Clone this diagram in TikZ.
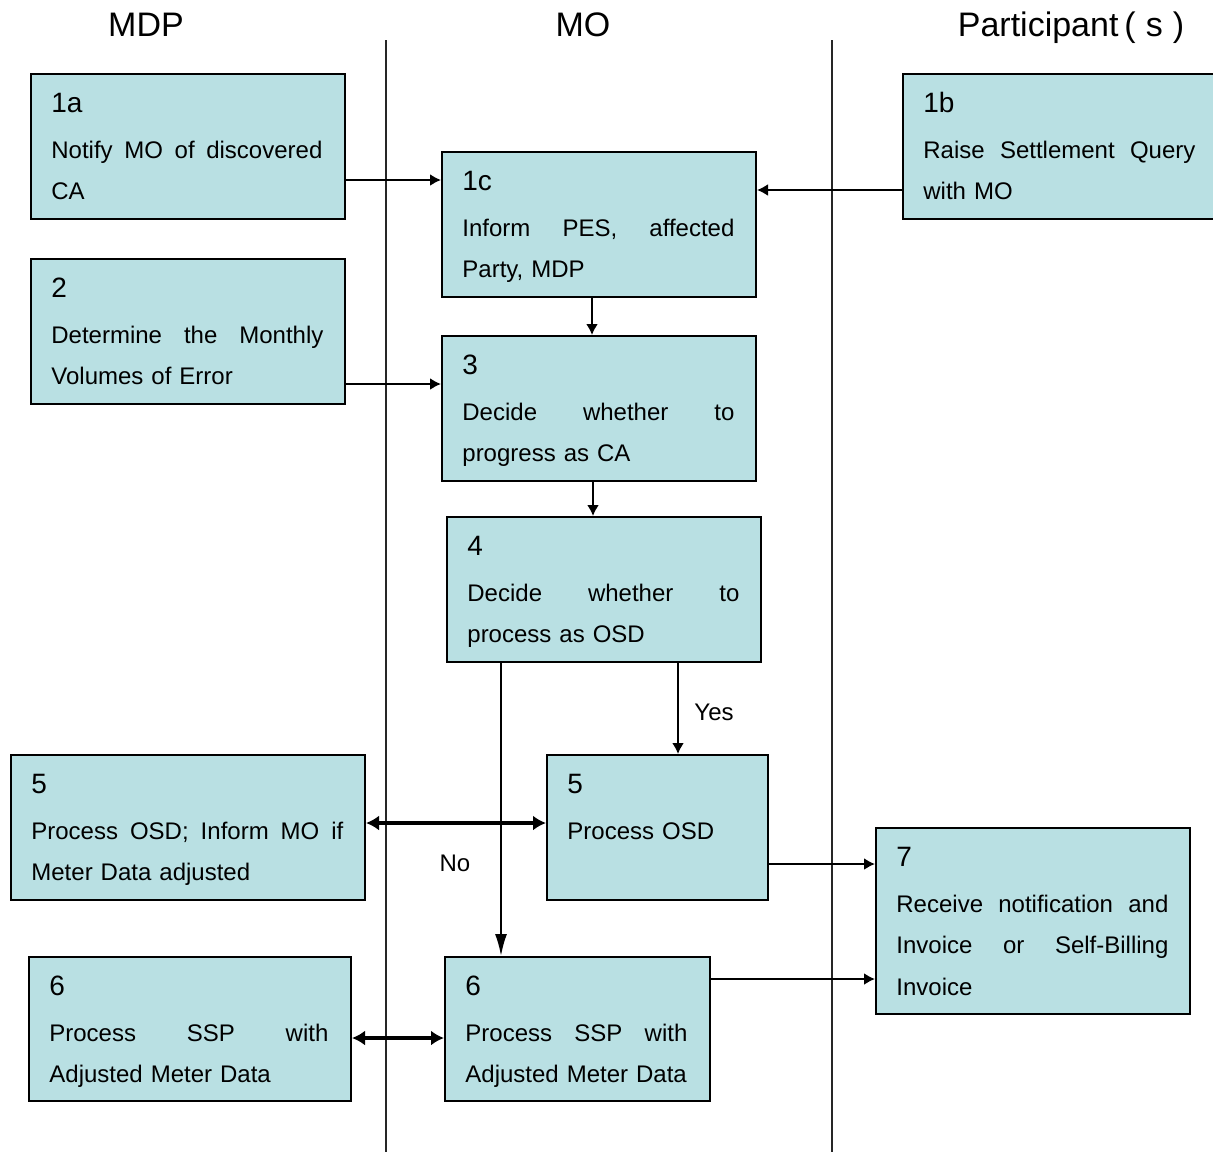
\documentclass[tikz,border=0pt]{standalone}
\usepackage{fontspec}
\setmainfont{Liberation Sans}
\usetikzlibrary{arrows.meta,fit}
\definecolor{stepfill}{RGB}{185,224,227}
% one justified line of a given width
\newcommand{\jline}[2]{\leavevmode\hbox to #1{\spaceskip=0.28em plus 1fil\relax #2}}
\hbadness=10000

\begin{document}
\begin{tikzpicture}[
  x=0.5pt, y=-0.5pt,
  stepbox/.style={draw, line width=1pt, fill=stepfill, inner sep=0pt},
  stepnum/.style={anchor=base west, inner sep=0pt, font=\fontsize{14}{16}\selectfont},
  steptext/.style={anchor=base west, inner sep=0pt, align=left, text width=160pt,
                   font=\fontsize{12}{20.75}\selectfont},
  lane/.style={draw, line width=0.6pt, black!85},
  head/.style={anchor=base, inner sep=0pt, font=\fontsize{17}{20}\selectfont},
  tag/.style={font=\fontsize{12}{14}\selectfont, inner sep=0pt},
  flow/.style={draw, line width=1pt, -{Latex[length=5.5pt,width=6pt]}},
  longflow/.style={draw, line width=1pt, -{Latex[length=11pt,width=6pt]}},
  both/.style={draw, line width=1.7pt, {Latex[length=6.5pt,width=7.5pt]}-{Latex[length=6.5pt,width=7.5pt]}}
]
\useasboundingbox (0,0) rectangle (1213,1152);
\clip (0,0) rectangle (1213,1152);

% swimlanes
\node[head] (hmdp) at (146,36) {MDP};
\node[head] (hmo) at (583,36) {MO};
\node[head] (hpart) at (1071,36) {Participant\kern3pt(\kern5pt s\kern5pt)};
\path[lane] (386,40) -- (386,1152);
\path[lane] (832,40) -- (832,1152);

% boxes
\node[stepbox, fit={(31,74) (345,219)}] (b1a) {};
\node[stepbox, fit={(442,152) (756,297)}] (b1c) {};
\node[stepbox, fit={(903,74) (1217,219)}] (b1b) {};
\node[stepbox, fit={(31,259) (345,404)}] (b2) {};
\node[stepbox, fit={(442,336) (756,481)}] (b3) {};
\node[stepbox, fit={(447,517) (761,662)}] (b4) {};
\node[stepbox, fit={(11,755) (365,900)}] (b5l) {};
\node[stepbox, fit={(547,755) (768,900)}] (b5m) {};
\node[stepbox, fit={(876,828) (1190,1014)}] (b7) {};
\node[stepbox, fit={(29,957) (351,1101)}] (b6l) {};
\node[stepbox, fit={(445,957) (710,1101)}] (b6m) {};

% step numbers
\foreach \b/\n in {b1a/1a, b1c/1c, b1b/1b, b2/2, b3/3, b4/4, b5l/5, b5m/5, b7/7, b6l/6, b6m/6}
  \node[stepnum] (\b num) at ([shift={(21,39)}]\b.north west) {\n};

% step texts
\node[steptext] (b1atext) at ([shift={(21,85)}]b1a.north west)
  {\jline{135.5pt}{Notify MO of discovered}\\CA};
\node[steptext] (b1ctext) at ([shift={(21,85)}]b1c.north west)
  {\jline{136pt}{Inform PES, affected}\\Party, MDP};
\node[steptext] (b1btext) at ([shift={(21,85)}]b1b.north west)
  {\jline{136pt}{Raise Settlement Query}\\with MO};
\node[steptext] (b2text) at ([shift={(21,85)}]b2.north west)
  {\jline{136pt}{Determine the Monthly}\\Volumes of Error};
\node[steptext] (b3text) at ([shift={(21,85)}]b3.north west)
  {\jline{136pt}{Decide whether to}\\progress as CA};
\node[steptext] (b4text) at ([shift={(21,85)}]b4.north west)
  {\jline{136pt}{Decide whether to}\\process as OSD};
\node[steptext] (b5ltext) at ([shift={(21,85)}]b5l.north west)
  {\jline{156pt}{Process OSD; Inform MO if}\\Meter Data adjusted};
\node[steptext] (b5mtext) at ([shift={(21,85)}]b5m.north west)
  {Process OSD};
\node[steptext] (b7text) at ([shift={(21,85)}]b7.north west)
  {\jline{136pt}{Receive notification and}\\\jline{136pt}{Invoice or Self-Billing}\\Invoice};
\node[steptext] (b6ltext) at ([shift={(21,85)}]b6l.north west)
  {\jline{139.5pt}{Process SSP with}\\Adjusted Meter Data};
\node[steptext] (b6mtext) at ([shift={(21,85)}]b6m.north west)
  {\jline{111pt}{Process SSP with}\\Adjusted Meter Data};

% connectors
\draw[flow] (b1a.east |- 0,180) -- (b1c.west |- 0,180);
\draw[flow] (b1b.west |- 0,190) -- (b1c.east |- 0,190);
\draw[flow] (b2.east |- 0,384) -- (b3.west |- 0,384);
\draw[flow] (b1c.south -| 592,0) -- (b3.north -| 592,0);
\draw[flow] (b3.south -| 593,0) -- (b4.north -| 593,0);
\draw[flow] (b4.south -| 678,0) -- node[tag, pos=0.54, xshift=18pt] {Yes} (b5m.north -| 678,0);
\draw[longflow] (b4.south -| 501,0) -- node[tag, pos=0.685, xshift=-23pt] {No} (b6m.north -| 501,0);
\draw[both] (b5l.east |- 0,823) -- (b5m.west |- 0,823);
\draw[both] (b6l.east |- 0,1038) -- (b6m.west |- 0,1038);
\draw[flow] (b5m.east |- 0,864) -- (b7.west |- 0,864);
\draw[flow] (b6m.east |- 0,979) -- (b7.west |- 0,979);
\end{tikzpicture}
\end{document}
